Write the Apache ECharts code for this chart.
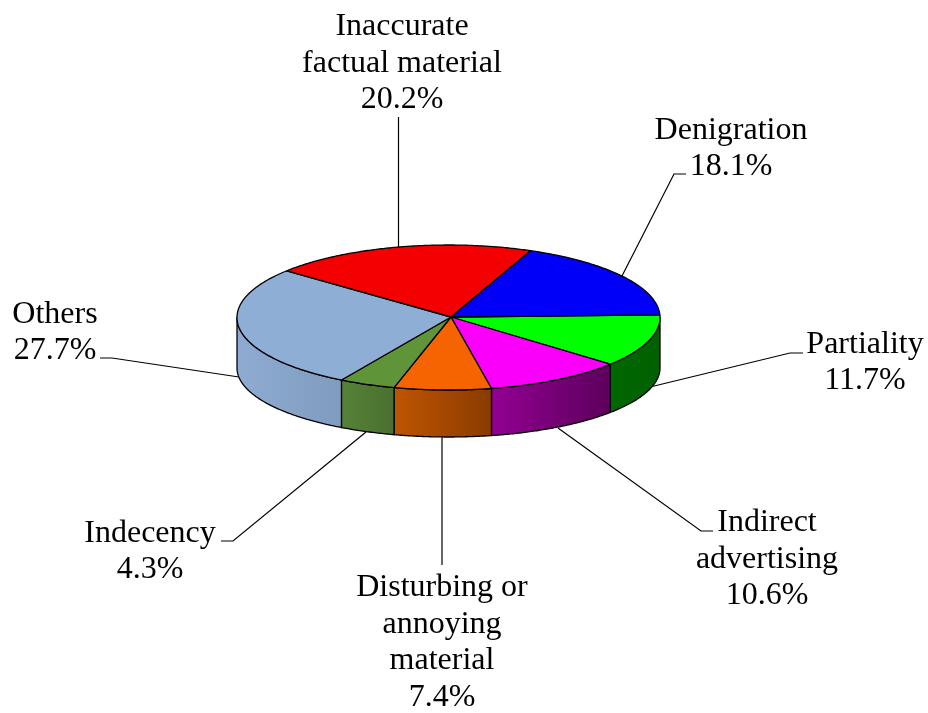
<!DOCTYPE html>
<html>
<head>
<meta charset="utf-8">
<style>
  html, body { margin: 0; padding: 0; background: #fff; }
  #chart { width: 928px; height: 713px; }
</style>
<script src="https://cdn.jsdelivr.net/npm/echarts@6/dist/echarts.min.js"></script>
</head>
<body>
<div id="chart"></div>
<script>
// Slices, clockwise from the right edge of the pie
const categories = [
  "Partiality",
  "Indirect\nadvertising",
  "Disturbing or\nannoying\nmaterial",
  "Indecency",
  "Others",
  "Inaccurate\nfactual material",
  "Denigration",
];
const shares = [11.7, 10.6, 7.4, 4.3, 27.7, 20.2, 18.1];

// Colours: top face, then wall gradient left -> right
const topColors = ["#00ff00", "#fa00fa", "#f56400", "#5f9438", "#8faed6", "#f40000", "#0000f8"];
const wallColors = [
  ["#006800", "#006000"],
  ["#930093", "#5c005c"],
  ["#bf5500", "#8a3b00"],
  ["#568238", "#4a7030"],
  ["#8fabd2", "#7f9cbf"],
  ["#000000", "#000000"],
  ["#000000", "#000000"],
];

// Pie layout in px
const CX = 448.5;
const CY = 317.5;
const RX = 211.5;
const RY = 72.5;
const BOTTOM_RY = 69;
const BOTTOM_DY = 50.5;
const START_DEG = 2;
const APEX = [451, 317];

// Label centres and leader lines in px
const labelPos = [
  [865, 362.5], [767, 559.5], [442, 642.5], [150, 551.5], [55, 332.5], [402, 63.5], [731, 148.5],
];
const leaders = [
  [[803, 353], [790, 353], [650, 387]],
  [[713, 531], [701, 531], [558, 428]],
  [[442, 565], [442, 437]],
  [[221, 541], [233, 541], [366, 432]],
  [[100, 358], [112, 358], [239, 377]],
  [[398.5, 117], [398.5, 247]],
  [[686, 174], [674, 174], [622, 276]],
];

const total = shares.reduce((a, b) => a + b, 0);
const ranges = [];
let angle = START_DEG;
shares.forEach((v) => {
  const next = angle - (v / total) * 360;
  ranges.push([angle, next]);
  angle = next;
});

function rim(deg, bottom) {
  const r = (deg * Math.PI) / 180;
  return [
    CX + RX * Math.cos(r),
    bottom ? CY + BOTTOM_DY - BOTTOM_RY * Math.sin(r) : CY - RY * Math.sin(r),
  ];
}

function arc(from, to, bottom) {
  const pts = [];
  const n = Math.max(2, Math.ceil(Math.abs(from - to) * 2));
  for (let i = 0; i <= n; i++) pts.push(rim(from + ((to - from) * i) / n, bottom));
  return pts;
}

const stroke = { stroke: "#000", lineWidth: 1.3, lineJoin: "round" };

function renderTop(params) {
  const [a0, a1] = ranges[params.dataIndex];
  return {
    type: "polygon",
    shape: { points: [APEX].concat(arc(a0, a1)) },
    style: { fill: topColors[params.dataIndex], ...stroke },
  };
}

function renderWall(params) {
  const [a0, a1] = ranges[params.dataIndex];
  // only the front half of the rim has a visible wall
  const from = Math.min(a0, 0);
  const to = Math.max(a1, -180);
  if (from <= to) return null;
  const stops = wallColors[params.dataIndex];
  return {
    type: "polygon",
    shape: { points: arc(from, to).concat(arc(to, from, true)) },
    style: {
      fill: {
        type: "linear", x: 1, y: 0, x2: 0, y2: 0,
        colorStops: [
          { offset: 0, color: stops[1] },
          { offset: 1, color: stops[0] },
        ],
      },
      ...stroke,
    },
  };
}

function renderLabel(params) {
  const i = params.dataIndex;
  return {
    type: "group",
    children: [
      {
        type: "polyline",
        shape: { points: leaders[i] },
        style: { fill: "none", stroke: "#000", lineWidth: 1.2 },
      },
      {
        type: "text",
        x: labelPos[i][0],
        y: labelPos[i][1],
        style: {
          text: categories[i] + "\n" + shares[i].toFixed(1) + "%",
          font: '32px "Liberation Serif"',
          lineHeight: 36.5,
          fill: "#000",
          align: "center",
          verticalAlign: "middle",
        },
      },
    ],
  };
}

const rows = shares.map((v, i) => [i, v]);
const chart = echarts.init(document.getElementById("chart"));
chart.setOption({
  backgroundColor: "#fff",
  animation: false,
  series: [
    { type: "custom", coordinateSystem: "none", z: 1, silent: true, data: rows, renderItem: renderLabel },
    { type: "custom", coordinateSystem: "none", z: 2, silent: true, data: rows, renderItem: renderWall },
    { type: "custom", coordinateSystem: "none", z: 3, silent: true, data: rows, renderItem: renderTop },
  ],
});
</script>
</body>
</html>
